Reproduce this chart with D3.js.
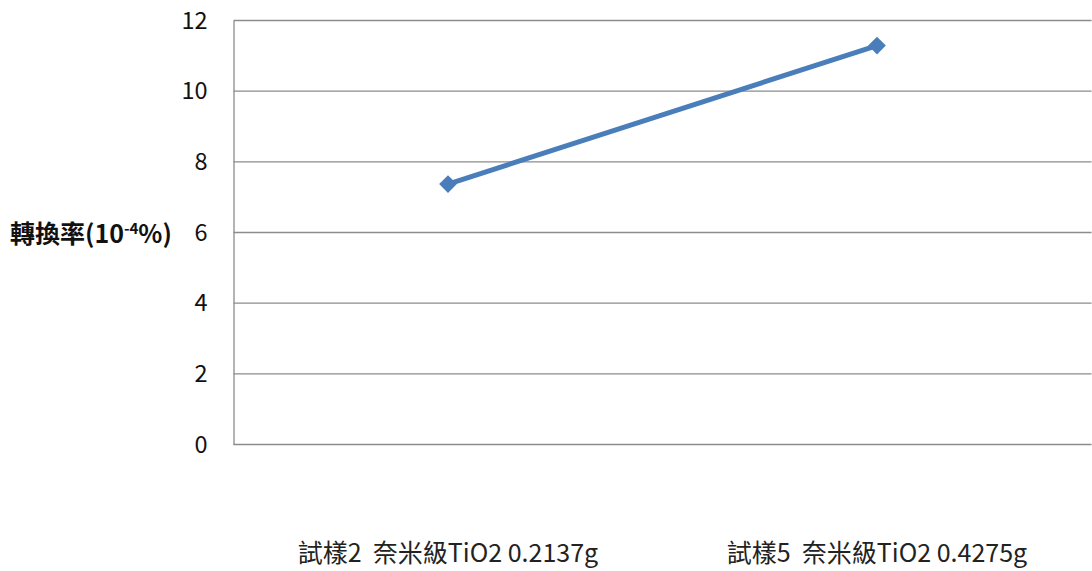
<!DOCTYPE html>
<html>
<head>
<meta charset="utf-8">
<script src="https://cdn.jsdelivr.net/npm/d3@7/dist/d3.min.js"></script>
<style>
  html, body { margin: 0; padding: 0; background: #fff; }
  svg { display: block; font-family: "Noto Sans CJK TC", "Noto Sans", sans-serif; }
</style>
</head>
<body>
<svg id="chart" width="1092" height="571"></svg>
<script>
// Samples and conversion rates (10^-4 %)
const categories = ["試樣2  奈米級TiO2 0.2137g", "試樣5  奈米級TiO2 0.4275g"];
const conversion = [7.37, 11.29];
const yTicks = [0, 2, 4, 6, 8, 10, 12];

const svg = d3.select("#chart");
const plot = { left: 233.5, right: 1091.5, top: 20.5, bottom: 444.5 };

const x = d3.scaleBand().domain(categories).range([plot.left, plot.right]);
const y = d3.scaleLinear().domain([0, 12]).range([plot.bottom, plot.top]);

// Horizontal gridlines
svg.append("g")
  .selectAll("line")
  .data(yTicks)
  .join("line")
  .attr("x1", plot.left).attr("x2", plot.right)
  .attr("y1", d => y(d)).attr("y2", d => y(d))
  .attr("stroke", "#8c8c8c").attr("stroke-width", 1.3);

// Vertical axis
const yAxis = svg.append("g")
  .attr("transform", `translate(${plot.left},0)`)
  .call(d3.axisLeft(y).tickValues(yTicks).tickSize(0).tickPadding(26).tickFormat(d3.format("d")));
yAxis.select(".domain").attr("stroke", "#8c8c8c").attr("stroke-width", 1.3);
yAxis.selectAll("text")
  .attr("font-size", 23.5).attr("fill", "#111")
  .attr("font-family", "'Noto Sans CJK TC', sans-serif");

// Category labels
svg.append("g")
  .selectAll("text")
  .data(categories)
  .join("text")
  .attr("x", d => x(d) + x.bandwidth() / 2)
  .attr("y", 562)
  .attr("text-anchor", "middle")
  .attr("font-size", 25)
  .attr("fill", "#222")
  .style("white-space", "pre")
  .text(d => d);

// Y axis title with superscript exponent
const title = svg.append("text")
  .attr("x", 10).attr("y", 243)
  .attr("font-size", 25).attr("font-weight", "bold").attr("fill", "#111");
title.append("tspan").text("轉換率(10");
title.append("tspan").attr("dy", -9).attr("font-size", 15).text("-4");
title.append("tspan").attr("dy", 9).text("%)");

// Series line
const pts = categories.map((c, i) => [x(c) + x.bandwidth() / 2, y(conversion[i])]);
svg.append("path")
  .attr("d", d3.line()(pts))
  .attr("fill", "none")
  .attr("stroke", "#4a7ebb")
  .attr("stroke-width", 5)
  .attr("stroke-linecap", "round");

// Diamond markers
svg.append("g")
  .selectAll("path")
  .data(pts)
  .join("path")
  .attr("transform", d => `translate(${d[0]},${d[1]})`)
  .attr("d", d3.symbol(d3.symbolDiamond2, 200)())
  .attr("fill", "#4a7ebb");
</script>
</body>
</html>
